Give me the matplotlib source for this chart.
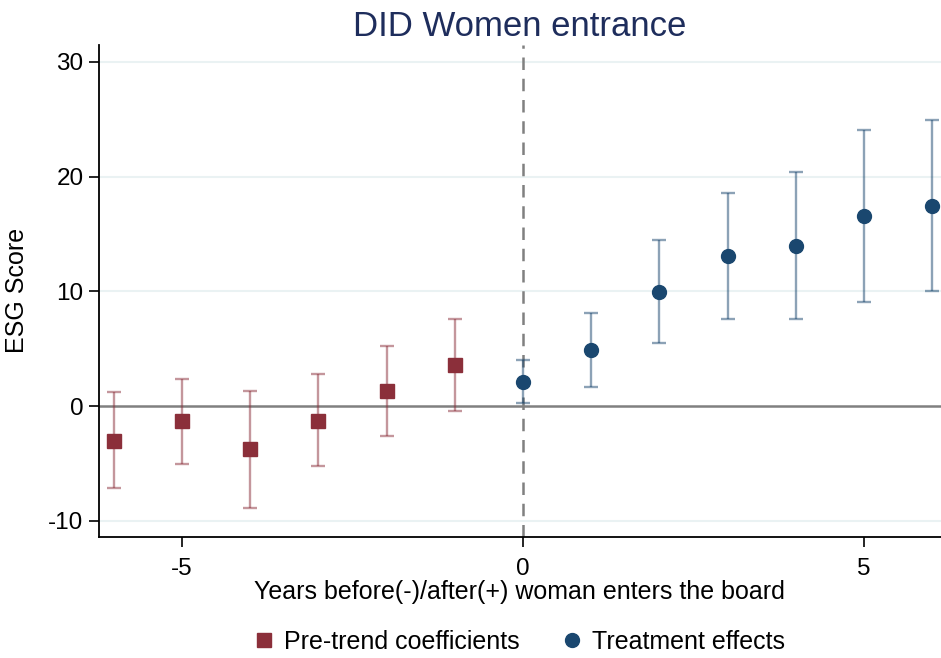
import matplotlib.pyplot as plt
from matplotlib.lines import Line2D

plt.rcParams['font.family'] = ['Liberation Sans', 'DejaVu Sans']
plt.rcParams['axes.unicode_minus'] = False

# event-time coefficients with 95% bounds
pre_years = [-6, -5, -4, -3, -2, -1]
pre_coef = [-3.0, -1.3, -3.75, -1.3, 1.3, 3.57]
pre_low = [-7.12, -5.0, -8.86, -5.26, -2.62, -0.44]
pre_high = [1.2, 2.35, 1.34, 2.79, 5.2, 7.58]

post_years = [0, 1, 2, 3, 4, 5, 6]
post_coef = [2.1, 4.88, 9.97, 13.11, 13.99, 16.54, 17.47]
post_low = [0.23, 1.69, 5.52, 7.61, 7.61, 9.04, 10.0]
post_high = [4.0, 8.1, 14.45, 18.57, 20.37, 24.06, 24.94]

red = '#8B2F3A'
blue = '#1A476F'

fig = plt.figure(figsize=(9.41, 6.58), dpi=100)
ax = fig.add_axes([0.105, 0.184, 0.895, 0.748])

for yy in [-10, 10, 20, 30]:
    ax.axhline(yy, color='#EAF2F3', lw=1.5, zorder=0)
ax.axhline(0, color='#808080', lw=1.8, zorder=1)
ax.axvline(0, color='#808080', lw=1.8, ls=(0, (5, 3.5)), zorder=1)

def draw(xs, c, lo, hi, col, mk, ms):
    yerr = [[ci - l for ci, l in zip(c, lo)], [h - ci for ci, h in zip(c, hi)]]
    ax.errorbar(xs, c, yerr=yerr, fmt='none', ecolor=col, alpha=0.5,
                elinewidth=1.7, capsize=4.7, capthick=1.7, zorder=2)
    ax.plot(xs, c, ls='none', marker=mk, ms=ms, color=col, zorder=3)

draw(pre_years, pre_coef, pre_low, pre_high, red, 's', 10)
draw(post_years, post_coef, post_low, post_high, blue, 'o', 10)

ax.set_xlim(-6.22, 6.13)
ax.set_ylim(-11.4, 31.5)
ax.set_xticks([-5, 0, 5])
ax.set_yticks([-10, 0, 10, 20, 30])
ax.tick_params(labelsize=17.5, length=7, width=1.2, color='black')
ax.tick_params(axis='x', pad=8)
ax.tick_params(axis='y', pad=4)
ax.spines['top'].set_visible(False)
ax.spines['right'].set_visible(False)
ax.spines['left'].set_linewidth(1.3)
ax.spines['bottom'].set_linewidth(1.3)

ax.set_title('DID Women entrance', fontsize=25, color='#1E2D5C', pad=6)
ax.set_ylabel('ESG Score', fontsize=18, labelpad=14)
ax.set_xlabel('Years before(-)/after(+) woman enters the board', fontsize=18, labelpad=0)

handles = [Line2D([], [], ls='none', marker='s', ms=10, color=red),
           Line2D([], [], ls='none', marker='o', ms=10, color=blue)]
fig.legend(handles, ['Pre-trend coefficients', 'Treatment effects'], loc='center',
           bbox_to_anchor=(0.551, 0.025), ncol=2, frameon=False, fontsize=18,
           handletextpad=0.3, columnspacing=1.6, handlelength=1.0)

fig.savefig('out.png', dpi=100)
